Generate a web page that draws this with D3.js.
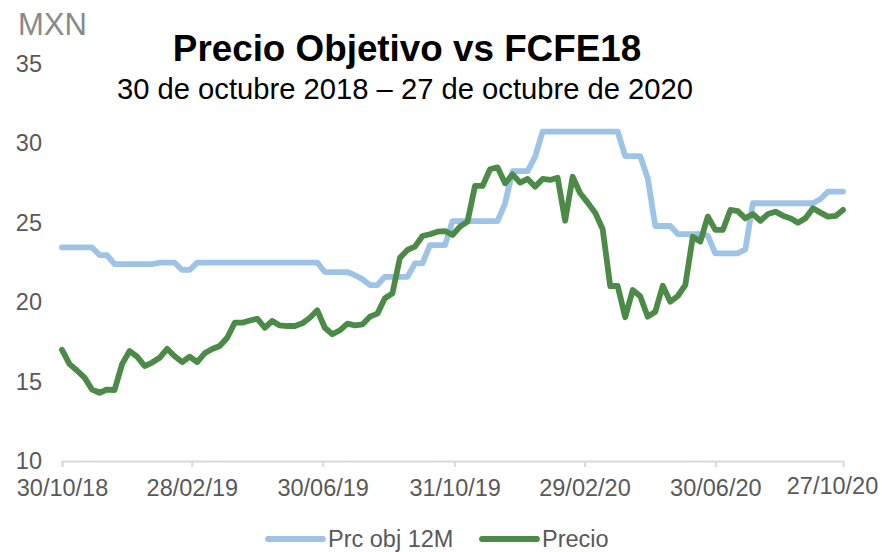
<!DOCTYPE html>
<html>
<head>
<meta charset="utf-8">
<script src="https://cdn.jsdelivr.net/npm/d3@7"></script>
<style>
  body { margin: 0; background: #fff; }
  text { font-family: "Liberation Sans", Arial, sans-serif; }
</style>
</head>
<body>
<svg id="chart" width="882" height="552"></svg>
<script>
// weekly observations (Tuesdays) from 30/10/18 to 27/10/20
var firstDate = new Date(2018, 9, 30);
var lastDate = new Date(2020, 9, 27);

var seriesNames = ["Prc obj 12M", "Precio"];
var seriesColors = ["#9dc3e6", "#4b8a47"];

// target price, 12 months
var prcObj = [
  23.45, 23.45, 23.45, 23.45, 23.45, 22.97, 22.97, 22.4, 22.4, 22.4,
  22.4, 22.4, 22.4, 22.49, 22.49, 22.49, 22.03, 22.03, 22.49, 22.49,
  22.49, 22.49, 22.49, 22.49, 22.49, 22.49, 22.49, 22.49, 22.49, 22.49,
  22.49, 22.49, 22.49, 22.49, 22.49, 21.9, 21.9, 21.9, 21.9, 21.7,
  21.45, 21.08, 21.08, 21.6, 21.6, 21.6, 21.6, 22.45, 22.45, 23.6,
  23.6, 23.6, 25.1, 25.1, 25.1, 25.1, 25.1, 25.1, 25.1, 26.23,
  28.26, 28.26, 28.26, 29.16, 30.74, 30.74, 30.74, 30.74, 30.74, 30.74,
  30.74, 30.74, 30.74, 30.74, 30.74, 29.2, 29.2, 29.2, 27.8, 24.8,
  24.8, 24.8, 24.29, 24.29, 24.29, 24.29, 24.2, 23.08, 23.08, 23.08,
  23.08, 23.33, 26.23, 26.23, 26.23, 26.23, 26.23, 26.23, 26.23, 26.23,
  26.23, 26.5, 26.96, 26.96, 26.96
];

// share price
var precio = [
  17.0, 16.1, 15.7, 15.25, 14.5, 14.3, 14.5, 14.47, 16.1, 16.93,
  16.57, 15.98, 16.2, 16.5, 17.07, 16.6, 16.23, 16.57, 16.23, 16.78,
  17.05, 17.24, 17.76, 18.71, 18.71, 18.85, 18.96, 18.39, 18.82, 18.54,
  18.5, 18.5, 18.67, 19.02, 19.49, 18.39, 17.98, 18.23, 18.65, 18.54,
  18.6, 19.09, 19.28, 20.25, 20.56, 22.8, 23.29, 23.5, 24.17, 24.28,
  24.44, 24.48, 24.23, 24.76, 25.07, 27.32, 27.32, 28.37, 28.49, 27.49,
  28.05, 27.53, 27.76, 27.28, 27.76, 27.7, 27.84, 25.13, 27.9, 26.86,
  26.27, 25.64, 24.59, 21.02, 21.02, 19.05, 20.77, 20.37, 19.09, 19.4,
  21.04, 20.03, 20.39, 21.08, 24.12, 23.81, 25.39, 24.55, 24.55, 25.81,
  25.74, 25.28, 25.55, 25.13, 25.55, 25.7, 25.45, 25.28, 25.0, 25.28,
  25.91, 25.64, 25.39, 25.43, 25.81
];

var xTickDates = [new Date(2018, 9, 30), new Date(2019, 1, 28), new Date(2019, 5, 30),
                  new Date(2019, 9, 31), new Date(2020, 1, 29), new Date(2020, 5, 30), lastDate];
var yTicks = [10, 15, 20, 25, 30, 35];

var dates = d3.timeTuesday.range(firstDate, d3.timeDay.offset(lastDate, 1));

var svg = d3.select("#chart");

var x = d3.scaleTime().domain([firstDate, lastDate]).range([62, 843]);
var y = d3.scaleLinear().domain([10, 35]).range([461, 64]);

// titles
svg.append("text")
  .attr("x", 407).attr("y", 61)
  .attr("text-anchor", "middle")
  .attr("font-size", "36.8px").attr("font-weight", "bold")
  .attr("fill", "#000")
  .text("Precio Objetivo vs FCFE18");

svg.append("text")
  .attr("x", 405).attr("y", 99)
  .attr("text-anchor", "middle")
  .attr("font-size", "29.2px")
  .attr("fill", "#000")
  .text("30 de octubre 2018 \u2013 27 de octubre de 2020");

svg.append("text")
  .attr("x", 18).attr("y", 35)
  .attr("font-size", "31px")
  .attr("fill", "#8a8a8a")
  .text("MXN");

// y axis (labels only)
var yAxis = svg.append("g")
  .attr("transform", "translate(62,0)")
  .call(d3.axisLeft(y).tickValues(yTicks).tickSize(0).tickPadding(20));
yAxis.select(".domain").remove();
yAxis.selectAll("text")
  .attr("font-size", "23.5px")
  .attr("fill", "#595959")
  .attr("font-family", "Liberation Sans, Arial, sans-serif");

// x axis
var xAxis = svg.append("g")
  .attr("transform", "translate(0,461)")
  .call(d3.axisBottom(x).tickValues(xTickDates).tickSize(6).tickFormat(d3.timeFormat("%d/%m/%y")));
xAxis.select(".domain").attr("stroke", "#d9d9d9").attr("stroke-width", 2);
xAxis.selectAll(".tick line").attr("stroke", "#d9d9d9").attr("stroke-width", 2);
xAxis.selectAll("text")
  .attr("font-size", "23.5px")
  .attr("fill", "#595959")
  .attr("font-family", "Liberation Sans, Arial, sans-serif")
  .attr("dy", 0).attr("y", 35);
var lastTick = xAxis.selectAll(".tick").filter(function(d){ return +d === +lastDate; });
lastTick.select("line").remove();
lastTick.select("text").attr("dx", -11).attr("y", 33);

// lines
var line = d3.line()
  .x(function(d, i){ return x(dates[i]); })
  .y(function(d){ return y(d); });

[prcObj, precio].forEach(function(s, k){
  svg.append("path")
    .datum(s)
    .attr("d", line)
    .attr("fill", "none")
    .attr("stroke", seriesColors[k])
    .attr("stroke-width", 5.8)
    .attr("stroke-linejoin", "round")
    .attr("stroke-linecap", "round");
});

// legend
var legendX = [268, 482];
seriesNames.forEach(function(name, k){
  svg.append("line")
    .attr("x1", legendX[k]).attr("x2", legendX[k] + 55)
    .attr("y1", 539).attr("y2", 539)
    .attr("stroke", seriesColors[k])
    .attr("stroke-width", 5.8)
    .attr("stroke-linecap", "round");
  svg.append("text")
    .attr("x", legendX[k] + 60).attr("y", 547)
    .attr("font-size", "23.5px")
    .attr("fill", "#595959")
    .text(name);
});
</script>
</body>
</html>
